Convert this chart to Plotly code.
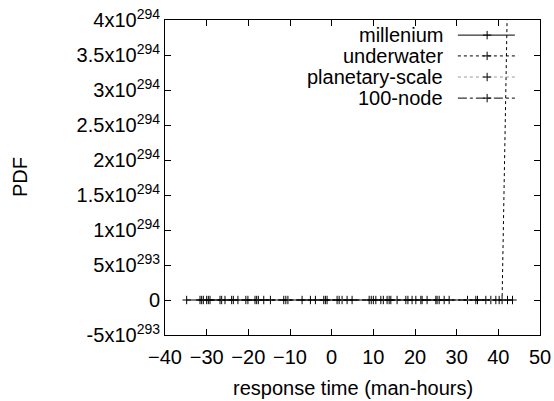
import plotly.graph_objects as go

# ---- data ----
series_names = ["millenium", "underwater", "planetary-scale", "100-node"]

millenium_x = [-34.8, -30.8, -26.4, -22.5, -18.0, -11.0, -3.9, 1.8, 9.5, 12.4, 15.7, 20.2, 25.3, 32.6, 38.2, 43.4]
millenium_y = [0] * len(millenium_x)

underwater_x = [-31.6, -29.6, -25.6, -20.6, -17.6, -10.5, -1.9, 2.5, 10.0, 13.3, 17.8, 21.4, 25.8, 34.6, 39.4, 40.9, 42.4]
underwater_y = [0, 0, 0, 0, 0, 0, 0, 0, 0, 0, 0, 0, 0, 0, 0, 0, 5e294]

planetary_x = [-31.2, -29.2, -24.0, -20.1, -16.3, -7.1, -1.5, 3.7, 10.6, 13.8, 18.3, 21.7, 27.0, 35.0, 40.2, 42.2]
planetary_y = [0] * len(planetary_x)

node100_x = [-30.0, -26.8, -23.6, -18.4, -14.7, -11.5, -5.1, -1.1, 1.3, 4.9, 9.0, 11.8, 14.2, 19.3, 22.9, 25.0, 28.2, 37.0]
node100_y = [0] * len(node100_x)

x_ticks = [-40, -30, -20, -10, 0, 10, 20, 30, 40, 50]
y_ticks = [-5e293, 0, 5e293, 1e294, 1.5e294, 2e294, 2.5e294, 3e294, 3.5e294, 4e294]
y_tick_labels = ["-5x10<sup>293</sup>", "0", "5x10<sup>293</sup>", "1x10<sup>294</sup>",
                 "1.5x10<sup>294</sup>", "2x10<sup>294</sup>", "2.5x10<sup>294</sup>",
                 "3x10<sup>294</sup>", "3.5x10<sup>294</sup>", "4x10<sup>294</sup>"]

# ---- styles ----
styles = [
    dict(color="black", dash="solid"),
    dict(color="black", dash="dot"),
    dict(color="#9a9a9a", dash="dot"),
    dict(color="black", dash="dashdot"),
]
FONT = "Liberation Sans, Arial, sans-serif"

fig = go.Figure()
data = [(millenium_x, millenium_y), (underwater_x, underwater_y),
        (planetary_x, planetary_y), (node100_x, node100_y)]
for name, (xs, ys), st in zip(series_names, data, styles):
    fig.add_trace(go.Scatter(
        x=xs, y=ys, mode="lines+markers", name=name, showlegend=False,
        line=dict(color=st["color"], dash=st["dash"], width=1),
        marker=dict(symbol="cross-thin", size=6, line=dict(color="black", width=1)),
        cliponaxis=True,
    ))

# legend samples on an overlay axis (0..1)
row_y = [0.952, 0.886, 0.819, 0.752]
for name, st, ry in zip(series_names, styles, row_y):
    fig.add_trace(go.Scatter(
        x=[0.781, 0.859, 0.933], y=[ry, ry, ry], mode="lines", xaxis="x2", yaxis="y2",
        showlegend=False, hoverinfo="skip",
        line=dict(color=st["color"], dash=st["dash"], width=1),
    ))
    fig.add_trace(go.Scatter(
        x=[0.859], y=[ry], mode="markers", xaxis="x2", yaxis="y2",
        showlegend=False, hoverinfo="skip",
        marker=dict(symbol="cross-thin", size=6, line=dict(color="black", width=1)),
    ))
    fig.add_annotation(x=0.7467, y=ry, xref="x2", yref="y2", text=name, showarrow=False,
                       xanchor="right", yanchor="middle", font=dict(size=20, color="black", family=FONT))

axis_common = dict(showline=True, linecolor="black", linewidth=1, mirror="ticks",
                   ticks="inside", ticklen=6, tickcolor="black", showgrid=False, zeroline=False,
                   automargin=False, ticklabeloverflow="allow",
                   tickfont=dict(size=20, color="black", family=FONT))

fig.update_layout(
    width=554, height=401,
    margin=dict(l=165, r=14, t=20, b=66),
    paper_bgcolor="white", plot_bgcolor="white",
    font=dict(family=FONT, size=20, color="black"),
    xaxis=dict(range=[-40, 50], tickvals=x_ticks, ticklabelstandoff=4, **axis_common),
    yaxis=dict(range=[-5e293, 4e294], tickvals=y_ticks, ticktext=y_tick_labels, **axis_common),
    xaxis2=dict(overlaying="x", range=[0, 1], visible=False, fixedrange=True),
    yaxis2=dict(overlaying="y", range=[0, 1], visible=False, fixedrange=True),
    showlegend=False,
)

fig.add_annotation(x=0.5, y=-0.168, xref="paper", yref="paper", text="response time (man-hours)",
                   showarrow=False, xanchor="center", yanchor="middle",
                   font=dict(size=20, color="black", family=FONT))
fig.add_annotation(x=-0.388, y=0.5, xref="paper", yref="paper", text="PDF", textangle=-90,
                   showarrow=False, xanchor="center", yanchor="middle",
                   font=dict(size=20, color="black", family=FONT))

# remove the browser's default 8px body margin so the figure fills the window exactly
fig.write_html("out.html",
               config={"displayModeBar": False},
               post_script="document.body.style.margin='0';document.body.style.overflow='hidden';")
